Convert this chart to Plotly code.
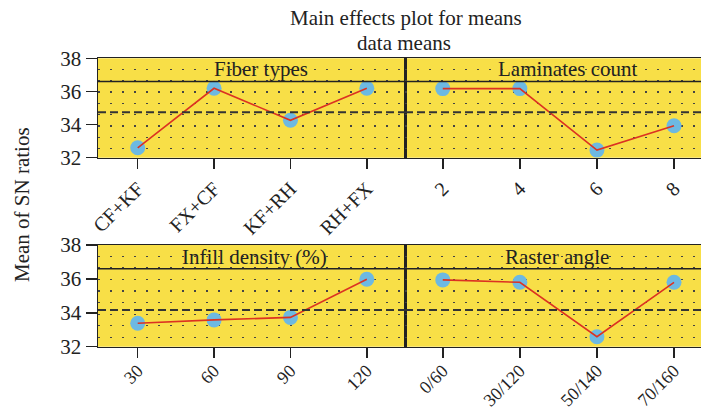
import plotly.graph_objects as go

# ---------------- data ----------------
fiber_types = ["CF+KF", "FX+CF", "KF+RH", "RH+FX"]
fiber_means = [32.60, 36.19, 34.26, 36.19]

laminates = ["2", "4", "6", "8"]
laminate_means = [36.17, 36.17, 32.46, 33.93]

infill = ["30", "60", "90", "120"]
infill_means = [33.38, 33.58, 33.73, 35.98]

raster = ["0/60", "30/120", "50/140", "70/160"]
raster_means = [35.94, 35.80, 32.59, 35.80]

top_grand_mean = 34.74
bottom_grand_mean = 34.17

panel_titles = ["Fiber types", "Laminates count", "Infill density (%)", "Raster angle"]
y_ticks = [32, 34, 36, 38]

# ---------------- style ----------------
YELLOW = "#F8DF47"
BLUE = "#6DB9E2"
RED = "#DC3222"
INK = "#222222"
FONT = "Liberation Serif"

W, H = 701, 412
xl = [98 / W, 405 / W]
xr = [405 / W, 1.0]
yt = [1 - 157.7 / H, 1 - 58.3 / H]
yb = [1 - 346.7 / H, 1 - 245 / H]

panels = [
    (fiber_types, fiber_means, "x", "y", xl, yt, [-0.52, 3.50], top_grand_mean, True, 20, 0),
    (laminates, laminate_means, "x2", "y2", xr, yt, [-0.49, 3.35], top_grand_mean, False, 20, 0),
    (infill, infill_means, "x3", "y3", xl, yb, [-0.52, 3.50], bottom_grand_mean, True, 18, -5),
    (raster, raster_means, "x4", "y4", xr, yb, [-0.49, 3.35], bottom_grand_mean, False, 18, -5),
]

fig = go.Figure()
layout = dict(
    width=W, height=H,
    margin=dict(l=0, r=0, t=0, b=0, autoexpand=False),
    paper_bgcolor="white",
    plot_bgcolor=YELLOW,
    showlegend=False,
    font=dict(family=FONT, color=INK, size=20),
)
shapes = []
annotations = []

for i, (cats, vals, xa, ya, xdom, ydom, xrng, gmean, show_y, xfs, stand) in enumerate(panels):
    idx = list(range(len(cats)))
    fig.add_trace(go.Scatter(
        x=idx, y=vals, xaxis=xa, yaxis=ya, mode="markers",
        marker=dict(size=15, color=BLUE, line=dict(width=0)),
        hoverinfo="skip"))
    fig.add_trace(go.Scatter(
        x=idx, y=vals, xaxis=xa, yaxis=ya, mode="lines",
        line=dict(color=RED, width=1.6), hoverinfo="skip"))

    xkey = "xaxis" if xa == "x" else "xaxis" + xa[1:]
    ykey = "yaxis" if ya == "y" else "yaxis" + ya[1:]
    layout[xkey] = dict(
        domain=xdom, anchor=ya, range=xrng, automargin=False,
        tickmode="array", tickvals=idx, ticktext=cats,
        tickangle=-45, ticks="outside", ticklen=10, tickwidth=1.5, tickcolor=INK,
        ticklabelstandoff=stand,
        showline=True, linecolor=INK, linewidth=1.5, mirror=True,
        showgrid=False, zeroline=False, fixedrange=True,
        tickfont=dict(family=FONT, size=xfs, color=INK),
    )
    layout[ykey] = dict(
        domain=ydom, anchor=xa, range=[32, 38], automargin=False,
        tickmode="array", tickvals=y_ticks, ticktext=[str(t) for t in y_ticks],
        ticks="outside" if show_y else "", ticklen=11, tickwidth=1.5, tickcolor=INK,
        showticklabels=show_y,
        showline=True, linecolor=INK, linewidth=1.5, mirror=True,
        showgrid=False, zeroline=False, fixedrange=True,
        tickfont=dict(family=FONT, size=21, color=INK),
        minor=dict(tickmode="linear", tick0=32.56, dtick=0.68, showgrid=True,
                   gridcolor="#444444", gridwidth=1.3, griddash="2px,10px", ticks=""),
    )
    # grand mean dashed line
    shapes.append(dict(type="line", xref=f"{xa} domain", yref=ya,
                       x0=0, x1=1, y0=gmean, y1=gmean,
                       line=dict(color="#333333", width=2, dash="8px,4px")))
    # strip separator line
    shapes.append(dict(type="line", xref=f"{xa} domain", yref=ya,
                       x0=0, x1=1, y0=36.6, y1=36.6,
                       line=dict(color=INK, width=1.6)))

# panel titles
title_pos = [(261, 69.5), (568, 69.5), (254, 257), (557, 257)]
for t, (px, py) in zip(panel_titles, title_pos):
    annotations.append(dict(text=t, xref="paper", yref="paper", x=px / W, y=1 - py / H,
                            xanchor="center", yanchor="middle", showarrow=False,
                            font=dict(family=FONT, size=21, color=INK)))

annotations.append(dict(text="Main effects plot for means", xref="paper", yref="paper",
                        x=406 / W, y=1 - 18 / H, xanchor="center", yanchor="middle",
                        showarrow=False, font=dict(family=FONT, size=21, color=INK)))
annotations.append(dict(text="data means", xref="paper", yref="paper",
                        x=404 / W, y=1 - 43 / H, xanchor="center", yanchor="middle",
                        showarrow=False, font=dict(family=FONT, size=21, color=INK)))
annotations.append(dict(text="Mean of SN ratios", xref="paper", yref="paper",
                        x=22 / W, y=1 - 205 / H, xanchor="center", yanchor="middle",
                        textangle=-90, showarrow=False,
                        font=dict(family=FONT, size=21, color=INK)))

layout["shapes"] = shapes
layout["annotations"] = annotations
fig.update_layout(**layout)
fig.write_html(
    "out.html",
    config={"displayModeBar": False, "staticPlot": True},
    post_script="document.body.style.margin='0px';document.body.style.overflow='hidden';",
)
